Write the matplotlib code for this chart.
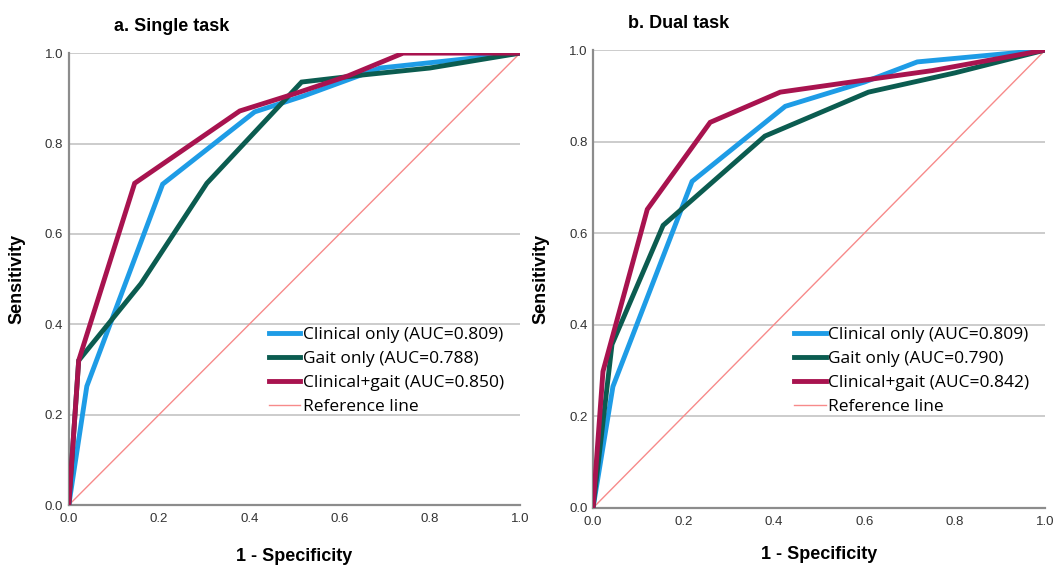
import matplotlib
matplotlib.use("Agg")
import matplotlib.pyplot as plt

# single task ROC points (1 - specificity, sensitivity)
single_clin_x = [0.0, 0.04, 0.208, 0.412, 0.52, 0.69, 1.0]
single_clin_y = [0.0, 0.263, 0.71, 0.87, 0.905, 0.967, 1.0]
single_gait_x = [0.0, 0.022, 0.16, 0.306, 0.516, 0.645, 0.8, 1.0]
single_gait_y = [0.0, 0.32, 0.49, 0.712, 0.936, 0.951, 0.967, 1.0]
single_both_x = [0.0, 0.022, 0.146, 0.379, 0.5, 0.62, 0.741, 1.0]
single_both_y = [0.0, 0.32, 0.712, 0.872, 0.91, 0.95, 1.0, 1.0]

# dual task ROC points
dual_clin_x = [0.0, 0.044, 0.219, 0.425, 0.6, 0.717, 1.0]
dual_clin_y = [0.0, 0.265, 0.713, 0.877, 0.93, 0.974, 1.0]
dual_gait_x = [0.0, 0.042, 0.155, 0.38, 0.609, 0.8, 1.0]
dual_gait_y = [0.0, 0.357, 0.617, 0.812, 0.908, 0.95, 1.0]
dual_both_x = [0.0, 0.022, 0.12, 0.259, 0.414, 0.62, 0.75, 1.0]
dual_both_y = [0.0, 0.298, 0.652, 0.842, 0.908, 0.937, 0.955, 1.0]

single_auc = ["0.809", "0.788", "0.850"]
dual_auc = ["0.809", "0.790", "0.842"]

titles = ["a. Single task", "b. Dual task"]
ticks = [0.0, 0.2, 0.4, 0.6, 0.8, 1.0]

C_CLIN = "#1e9ce6"
C_GAIT = "#0b5c50"
C_BOTH = "#a8134f"
C_REF = "#f78a8a"

plt.rcParams["font.family"] = ["Liberation Sans", "DejaVu Sans"]

fig = plt.figure(figsize=(10.58, 5.65), dpi=100)
ax1 = fig.add_axes([0.065, 0.106, 0.4265, 0.80])
ax2 = fig.add_axes([0.5605, 0.101, 0.4275, 0.8105])

panels = [
    (ax1, single_clin_x, single_clin_y, single_gait_x, single_gait_y,
     single_both_x, single_both_y, single_auc),
    (ax2, dual_clin_x, dual_clin_y, dual_gait_x, dual_gait_y,
     dual_both_x, dual_both_y, dual_auc),
]
title_x = [0.1, 0.077]
xlab_pad = [16, 13]
leg_anchor = [(0.428, 0.41), (0.43, 0.41)]

for i, (ax, cx, cy, gx, gy, bx, by, auc) in enumerate(panels):
    ax.plot(cx, cy, color=C_CLIN, lw=3.5, solid_joinstyle="miter",
            label=f"Clinical only (AUC={auc[0]})", zorder=3)
    ax.plot(gx, gy, color=C_GAIT, lw=3.5, solid_joinstyle="miter",
            label=f"Gait only (AUC={auc[1]})", zorder=3)
    ax.plot(bx, by, color=C_BOTH, lw=3.5, solid_joinstyle="miter",
            label=f"Clinical+gait (AUC={auc[2]})", zorder=4)
    ax.plot([0, 1], [0, 1], color=C_REF, lw=1.0, label="Reference line",
            zorder=2)

    ax.set_xlim(0, 1)
    ax.set_ylim(0, 1)
    ax.set_xticks(ticks)
    ax.set_yticks(ticks)
    ax.set_xticklabels([f"{t:.1f}" for t in ticks])
    ax.set_yticklabels([f"{t:.1f}" for t in ticks])
    ax.tick_params(length=0, labelsize=9.5, colors="#333333")
    ax.tick_params(axis="x", pad=6)
    ax.tick_params(axis="y", pad=4)
    ax.yaxis.grid(True, color="#c8c8c8", lw=1.3)
    ax.set_axisbelow(True)
    for s in ["top", "right"]:
        ax.spines[s].set_visible(False)
    for s in ["left", "bottom"]:
        ax.spines[s].set_color("#8c8c8c")
        ax.spines[s].set_linewidth(1.6)

    ax.set_xlabel("1 - Specificity", fontsize=13, fontweight="bold",
                  labelpad=xlab_pad[i])
    ax.set_ylabel("Sensitivity", fontsize=13, fontweight="bold", labelpad=14)
    ax.set_title(titles[i], fontsize=13, fontweight="bold", loc="left",
                 x=title_x[i], pad=16)

    ax.legend(loc="upper left", bbox_to_anchor=leg_anchor[i],
              frameon=False, handlelength=1.8, handletextpad=0.15,
              labelspacing=0.45, borderaxespad=0,
              prop={"family": "Open Sans", "size": 12.5})

fig.savefig("out.png", dpi=100)
